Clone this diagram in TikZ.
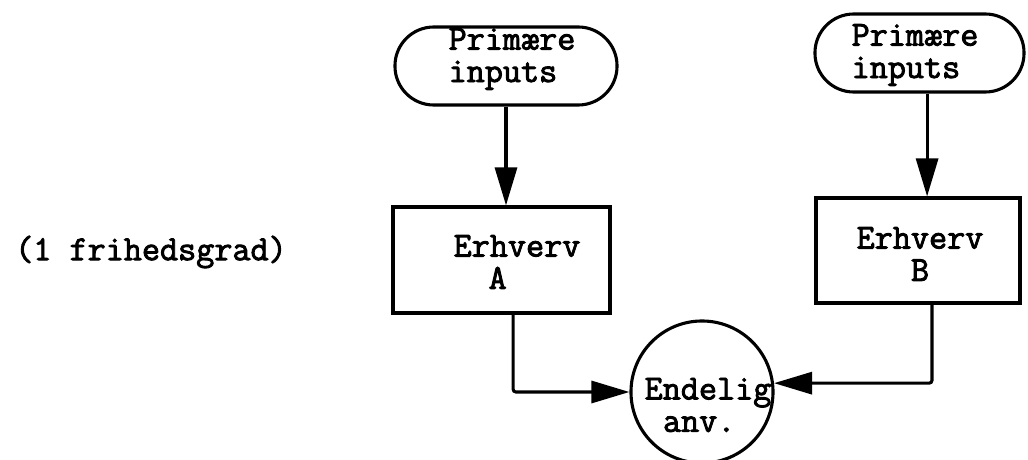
\documentclass[tikz,border=0pt]{standalone}
\usepackage{fontspec}
\setmonofont{Latin Modern Mono}[FakeBold=2.5]
\usetikzlibrary{arrows.meta}
\begin{document}
\begin{tikzpicture}[x=0.025cm,y=-0.025cm,
  every node/.style={inner sep=0pt},
  txt/.style={font=\ttfamily\fontsize{25}{23}\selectfont},
  term/.style={draw,line width=2.2pt,rounded corners=0.97cm,minimum height=1.95cm},
  boxshape/.style={draw,line width=2.2pt},
  endnode/.style={draw,circle,line width=2.2pt,minimum size=3.55cm},
  arr/.style={line width=2.2pt,-{Triangle[length=0.95cm,width=0.55cm]}}]
  % canvas
  \path[use as bounding box,fill=white] (0,0) rectangle (1028,460);

  % shapes
  \node[term,minimum width=5.55cm] (tA) at (506,66) {};
  \node[term,minimum width=5.225cm] (tB) at (919.5,53) {};
  \node[boxshape,minimum width=5.425cm,minimum height=2.65cm] (bA) at (501.5,260) {};
  \node[boxshape,minimum width=5.1cm,minimum height=2.625cm] (bB) at (918,250.5) {};
  \node[endnode] (c) at (702,392) {};

  % texts
  \node[txt,align=left] (tAtxt) at (512,59) {Primære\\inputs};
  \node[txt,align=left] (tBtxt) at (915,55) {Primære\\inputs};
  \node[txt,align=center] (bAtxt) at (517,262) {Erhverv\\A\hspace*{1.1em}};
  \node[txt,align=center] (bBtxt) at (920,254) {Erhverv\\B};
  \node[txt,align=center] (ctxt) at (708,405) {Endelig\\anv.\hspace*{0.5em}};
  \node[txt] (dof) at (151,252) {(1 frihedsgrad)};

  % connectors
  \draw[arr] (tA.south) -- (tA.south |- bA.north);
  \draw[arr] ([xshift=0.19cm]tB.south) -- ([xshift=0.19cm]tB.south |- bB.north);
  \draw[arr,rounded corners=2pt] ([xshift=0.29cm]bA.south) |- (c.west);
  \draw[arr,rounded corners=2pt] ([xshift=0.35cm]bB.south) |- (c.7);
\end{tikzpicture}
\end{document}
